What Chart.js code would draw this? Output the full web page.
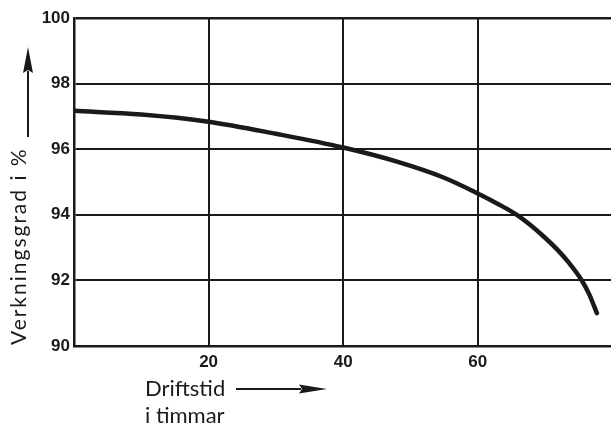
<!DOCTYPE html>
<html>
<head>
<meta charset="utf-8">
<script src="https://cdn.jsdelivr.net/npm/chart.js@4/dist/chart.umd.min.js"></script>
<style>
  html, body { margin: 0; padding: 0; background: #fff; }
  #wrap { width: 611px; height: 425px; }
</style>
</head>
<body>
<div id="wrap"><canvas id="myChart" width="611" height="425"></canvas></div>
<script>
// hours of operation and efficiency (%)
const hours = [0, 10, 20, 30, 40, 48, 55, 60, 63, 65.8, 68, 70, 72, 73.5, 75.4, 76.6, 77.7];
const efficiency = [97.17, 97.06, 96.84, 96.47, 96.05, 95.62, 95.13, 94.65, 94.33, 94.0, 93.66, 93.3, 92.9, 92.55, 92.02, 91.56, 91.0];
const xTicks = [20, 40, 60];
const yTicks = [90, 92, 94, 96, 98, 100];
const yTitle = "Verkningsgrad i %";
const xTitle = ["Driftstid", "i timmar"];

const ink = "#1a1a1a";

function arrow(ctx, x1, y1, x2, y2, headLen, headHalf) {
  const a = Math.atan2(y2 - y1, x2 - x1);
  const bx = x2 - headLen * Math.cos(a), by = y2 - headLen * Math.sin(a);
  ctx.beginPath();
  ctx.moveTo(x1, y1);
  ctx.lineTo(bx + 2 * Math.cos(a), by + 2 * Math.sin(a));
  ctx.stroke();
  ctx.beginPath();
  ctx.moveTo(x2, y2);
  ctx.lineTo(bx - headHalf * Math.sin(a), by + headHalf * Math.cos(a));
  ctx.lineTo(bx + 3 * Math.cos(a), by + 3 * Math.sin(a));
  ctx.lineTo(bx + headHalf * Math.sin(a), by - headHalf * Math.cos(a));
  ctx.closePath();
  ctx.fill();
}

// axis titles with their arrows, placed like the printed figure
const titles = {
  id: "titles",
  afterDraw(chart) {
    const ctx = chart.ctx;
    ctx.save();
    ctx.fillStyle = ink;
    ctx.strokeStyle = ink;
    ctx.lineWidth = 2;
    ctx.font = "400 21px Lato";

    // y title, rotated
    ctx.save();
    ctx.translate(26, 345);
    ctx.rotate(-Math.PI / 2);
    ctx.letterSpacing = "2px";
    ctx.textAlign = "left";
    ctx.textBaseline = "alphabetic";
    ctx.fillText(yTitle, 0, 0);
    ctx.restore();
    arrow(ctx, 28, 137, 28, 47, 26, 5);

    // x title
    ctx.font = "400 22px Lato";
    ctx.textAlign = "left";
    ctx.textBaseline = "alphabetic";
    ctx.fillText(xTitle[0], 145, 396);
    ctx.fillText(xTitle[1], 145, 423);
    arrow(ctx, 236, 389, 327, 389, 28, 4.5);
    ctx.restore();
  }
};

const ctx = document.getElementById("myChart");
const myChart = new Chart(ctx, {
  type: "line",
  data: {
    datasets: [
      {
        data: hours.map((h, i) => ({ x: h, y: efficiency[i] })),
        borderColor: ink,
        borderWidth: 4.5,
        borderCapStyle: "round",
        pointRadius: 0,
        cubicInterpolationMode: "monotone",
        fill: false,
      },
    ],
  },
  options: {
    responsive: false,
    animation: false,
    events: [],
    layout: { padding: { top: 18, right: 0, left: 0, bottom: 0 } },
    plugins: {
      legend: { display: false },
      tooltip: { enabled: false },
    },
    scales: {
      x: {
        type: "linear",
        min: 0,
        max: 79.8,
        afterBuildTicks: (axis) => { axis.ticks = xTicks.map((v) => ({ value: v })); },
        afterFit: (axis) => { axis.height = 79; },
        grid: { color: ink, lineWidth: 2, drawTicks: false },
        border: { display: true, color: ink, width: 2.5 },
        ticks: {
          color: ink,
          padding: 6,
          font: { family: "Liberation Sans", size: 17, weight: "bold" },
        },
      },
      y: {
        min: 90,
        max: 100,
        afterBuildTicks: (axis) => { axis.ticks = yTicks.map((v) => ({ value: v })); },
        afterFit: (axis) => { axis.width = 74; },
        grid: { color: ink, lineWidth: (c) => (c.tick && c.tick.value === 100 ? 2.5 : 2), drawTicks: false },
        border: { display: true, color: ink, width: 2.5 },
        ticks: {
          color: ink,
          padding: 4,
          font: { family: "Liberation Sans", size: 17, weight: "bold" },
        },
      },
    },
  },
  plugins: [titles],
});
</script>
</body>
</html>
